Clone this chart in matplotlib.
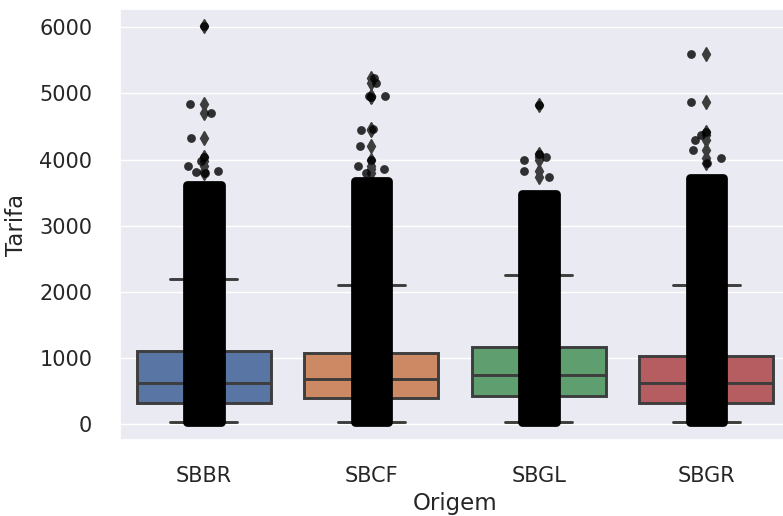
import numpy as np
import matplotlib.pyplot as plt
import seaborn as sns

sns.set_theme(style="darkgrid")

# Tarifa por aeroporto de origem
origens = ["SBBR", "SBCF", "SBGL", "SBGR"]
cores = ["#5875a4", "#cc8963", "#5f9e6e", "#b55d60"]

# estatísticas das caixas
q1 = [323, 399, 429, 323]
medianas = [617, 682, 738, 617]
q3 = [1111, 1071, 1162, 1035]
bigode_inf = [35, 35, 35, 35]
bigode_sup = [2197, 2106, 2258, 2106]

# faixa densa dos pontos (onde os pontos se sobrepõem totalmente)
faixa_min = [30, 30, 30, 30]
faixa_max = [3620, 3680, 3480, 3720]

# pontos isolados acima da faixa densa e seu deslocamento horizontal
outliers = [
    [6020, 4837, 4700, 4331, 4045, 3979, 3903, 3817, 3792, 3820],
    [5230, 5160, 4962, 4962, 4940, 4448, 4458, 4206, 3994, 3903, 3853, 3792],
    [4826, 4085, 4035, 3994, 3832, 3741],
    [5590, 4870, 4420, 4372, 4297, 4145, 4020, 3949],
]
jitter = [
    [0.0, -0.084, 0.046, -0.078, 0.0, -0.018, -0.096, -0.044, 0.006, 0.084],
    [0.014, 0.028, -0.012, 0.081, 0.0, -0.062, 0.008, -0.066, 0.0, -0.08, 0.078, -0.032],
    [0.004, 0.0, 0.045, -0.091, -0.091, 0.064],
    [-0.09, -0.09, 0.0, -0.03, -0.07, -0.08, 0.089, 0.007],
]

fig = plt.figure(figsize=(7.83, 5.16), dpi=100)
ax = fig.add_axes([120 / 783, 76 / 516, 670 / 783, 431 / 516])

cinza = "#3d3d3d"
stats = []
for i in range(len(origens)):
    stats.append(dict(label=origens[i], q1=q1[i], med=medianas[i], q3=q3[i],
                      whislo=bigode_inf[i], whishi=bigode_sup[i],
                      fliers=outliers[i]))

bp = ax.bxp(stats, positions=range(len(origens)), widths=0.8, capwidths=0.4,
            patch_artist=True,
            boxprops=dict(edgecolor=cinza, linewidth=2.1),
            medianprops=dict(color=cinza, linewidth=2.1),
            whiskerprops=dict(color=cinza, linewidth=2.1),
            capprops=dict(color=cinza, linewidth=2.1),
            flierprops=dict(marker="d", markerfacecolor=cinza,
                            markeredgecolor=cinza, markersize=7))
for caixa, cor in zip(bp["boxes"], cores):
    caixa.set_facecolor(cor)

# faixa densa do stripplot
pos = np.arange(len(origens))
ax.bar(pos, np.array(faixa_max) - np.array(faixa_min), bottom=faixa_min,
       width=0.2, color="black", edgecolor="black", linewidth=6.3,
       joinstyle="round", zorder=3)

# pontos isolados
for i in range(len(origens)):
    xs = pos[i] + np.array(jitter[i])
    ax.scatter(xs, outliers[i], s=40, color="black", alpha=0.8,
               linewidths=0, zorder=4)

ax.set_xlim(-0.5, 3.5)
ax.set_ylim(-242, 6278)
ax.set_yticks(range(0, 6001, 1000))
ax.set_xticks(pos)
ax.set_xticklabels(origens)
ax.xaxis.grid(False)
ax.tick_params(axis="x", labelsize=15, pad=13)
ax.tick_params(axis="y", labelsize=15, pad=14)
ax.set_xlabel("Origem", fontsize=16.5, labelpad=4)
ax.set_ylabel("Tarifa", fontsize=16.5, labelpad=8)

fig.savefig("out.png", dpi=100)
